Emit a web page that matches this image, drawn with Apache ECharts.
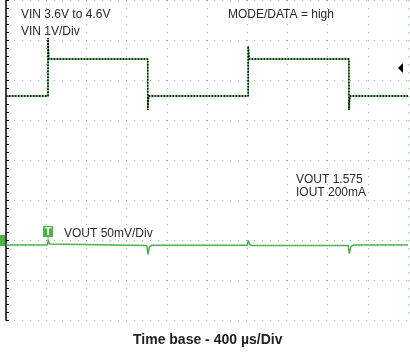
<!DOCTYPE html>
<html>
<head>
<meta charset="utf-8">
<script src="https://cdn.jsdelivr.net/npm/echarts@6/dist/echarts.min.js"></script>
<style>
  html, body { margin: 0; padding: 0; background: #fff; }
  #chart { width: 410px; height: 352px; }
</style>
</head>
<body>
<div id="chart"></div>
<script>
// time in microseconds, level in screen divisions (0 = bottom graticule line)
const timeTicks = [0, 400, 800, 1200, 1600, 2000, 2400, 2800, 3200, 3600, 4000];

// VIN trace (1V/Div), step 3.6V -> 4.6V with switching spikes
const vinTime = [0, 418, 418, 425, 1410, 1410, 1420, 2410, 2410, 2420, 3412, 3412, 3422, 4000];
const vinDiv  = [5.6, 5.6, 7.05, 6.525, 6.525, 5.25, 5.6, 5.6, 6.85, 6.525, 6.525, 5.25, 5.6, 5.6];

// VOUT trace (50mV/Div, AC coupled)
const voutTime = [0, 410, 418, 421, 432, 450, 1400, 1408, 1414, 1426, 1450, 2400, 2408, 2411, 2425, 2450, 3405, 3410, 3416, 3432, 3460, 4000];
const voutDiv  = [1.875, 1.875, 1.87, 2.0, 1.9, 1.86, 1.86, 1.85, 1.64, 1.82, 1.87, 1.87, 1.88, 1.99, 1.88, 1.86, 1.86, 1.85, 1.66, 1.84, 1.875, 1.875];

const labels = {
  vinRange: 'VIN 3.6V to 4.6V',
  vinScale: 'VIN 1V/Div',
  mode: 'MODE/DATA = high',
  vout: 'VOUT 1.575',
  iout: 'IOUT 200mA',
  voutScale: 'VOUT 50mV/Div',
  timebase: 'Time base - 400 \u00b5s/Div'
};

const zip = (xs, ys) => xs.map((x, i) => [x, ys[i]]);

const chart = echarts.init(document.getElementById('chart'));
const green = '#4cb34c';
const font = 'Liberation Sans, Arial, sans-serif';

const option = {
  animation: false,
  grid: { left: 6, right: 2, top: 0, height: 320 },
  xAxis: {
    type: 'value', min: 0, max: 4000, interval: 400,
    axisLine: { show: false },
    axisTick: { show: false },
    axisLabel: { show: false },
    splitLine: { show: true, lineStyle: { color: green, width: 1, type: [1, 7], opacity: 0.75 } }
  },
  yAxis: {
    type: 'value', min: 0, max: 8, interval: 1,
    axisLine: { show: true, onZero: false, lineStyle: { color: '#000', width: 1.5 } },
    axisTick: { show: true, inside: true, length: 3, lineStyle: { color: '#000' } },
    minorTick: { show: true, splitNumber: 5, length: 3, lineStyle: { color: '#000' } },
    axisLabel: { show: false },
    splitLine: { show: true, lineStyle: { color: green, width: 1, type: [1, 7], opacity: 0.75 } }
  },
  graphic: [
    { type: 'text', left: 21, top: 9, style: { text: labels.vinRange, font: '12px ' + font, fill: '#2a2a2a' } },
    { type: 'text', left: 21, top: 26, style: { text: labels.vinScale, font: '12px ' + font, fill: '#2a2a2a' } },
    { type: 'text', left: 228, top: 9, style: { text: labels.mode, font: '12px ' + font, fill: '#2a2a2a' } },
    { type: 'text', left: 296, top: 174, style: { text: labels.vout, font: '12px ' + font, fill: '#2a2a2a' } },
    { type: 'text', left: 296, top: 187, style: { text: labels.iout, font: '12px ' + font, fill: '#2a2a2a' } },
    { type: 'text', left: 64, top: 228, style: { text: labels.voutScale, font: '12px ' + font, fill: '#2a2a2a' } },
    { type: 'text', left: 133, top: 333, style: { text: labels.timebase, font: 'bold 14px ' + font, fill: '#222' } },
    // trigger position marker
    { type: 'rect', shape: { x: 43, y: 226, width: 10, height: 11 }, style: { fill: green } },
    { type: 'rect', shape: { x: 47.5, y: 237, width: 1, height: 3 }, style: { fill: green } },
    { type: 'text', x: 48, y: 231.5, style: { text: 'T', font: 'bold 11px ' + font, fill: '#fff', align: 'center', verticalAlign: 'middle' } },
    // channel ground marker
    { type: 'rect', shape: { x: 0, y: 235, width: 5, height: 11 }, style: { fill: green } },
    // trigger level marker
    { type: 'polygon', shape: { points: [[398, 68], [403, 63], [403, 73]] }, style: { fill: '#000' } }
  ],
  series: [
    {
      name: 'VIN', type: 'line', data: zip(vinTime, vinDiv), showSymbol: false,
      lineStyle: { color: green, width: 1.5 }, z: 3
    },
    {
      name: 'VIN dots', type: 'line', data: zip(vinTime, vinDiv), showSymbol: false,
      lineStyle: { color: '#000', width: 1.5, type: [1.5, 1.5] }, z: 4
    },
    {
      name: 'VOUT', type: 'line', data: zip(voutTime, voutDiv), showSymbol: false,
      lineStyle: { color: '#4caf50', width: 1.5 }, z: 5
    }
  ]
};

chart.setOption(option);
</script>
</body>
</html>
